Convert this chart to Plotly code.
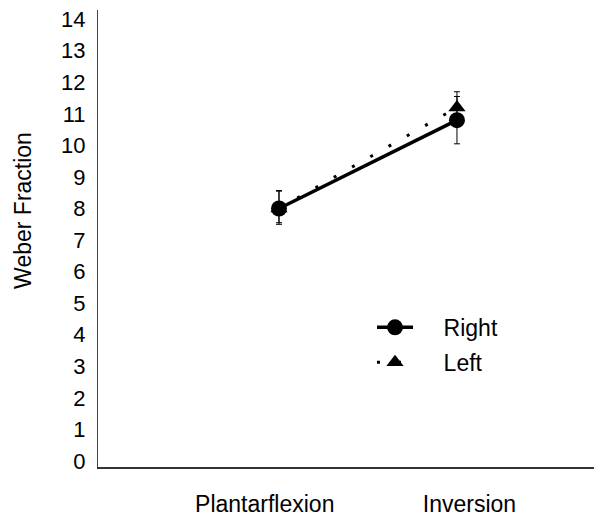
import plotly.graph_objects as go

categories = ["Plantarflexion", "Inversion"]
right_vals = [8.0, 10.8]
right_err_plus = [0.57, 0.75]
right_err_minus = [0.5, 0.75]
left_vals = [8.0, 11.2]
left_err_plus = [0.55, 0.5]
left_err_minus = [0.45, 0.5]
y_ticks = list(range(0, 15))

xpos = list(range(len(categories)))
label_pos = [-0.08, 1.07]

NB = "\u00a0" * 4
font = "Liberation Sans, Arial, Helvetica, sans-serif"

fig = go.Figure()
fig.add_trace(go.Scatter(
    x=xpos, y=left_vals, name=NB + "Left", mode="lines+markers",
    legendgroup="l", legendrank=2,
    line=dict(color="black", width=3, dash="3px,18px"),
    marker=dict(symbol="triangle-up", size=15, color="black"),
    error_y=dict(type="data", array=left_err_plus, arrayminus=left_err_minus,
                 color="black", thickness=1, width=3),
))
fig.add_trace(go.Scatter(
    x=xpos, y=right_vals, name=NB + "Right", mode="lines+markers",
    legendgroup="r", legendrank=1,
    line=dict(color="black", width=3.5),
    marker=dict(symbol="circle", size=16, color="black"),
    error_y=dict(type="data", array=right_err_plus, arrayminus=right_err_minus,
                 color="black", thickness=1, width=3),
))

fig.update_layout(
    width=594, height=511,
    margin=dict(l=90, r=0, t=2, b=52, autoexpand=False),
    plot_bgcolor="white", paper_bgcolor="white",
    font=dict(family=font, size=23, color="black"),
    showlegend=True,
    legend=dict(x=0.5437, y=0.3526, xanchor="left", yanchor="top",
                traceorder="grouped", itemwidth=36,
                font=dict(size=23), bgcolor="rgba(0,0,0,0)",
                tracegroupgap=2),
    xaxis=dict(
        range=[-1.017, 1.815], tickmode="array", tickvals=label_pos,
        ticktext=categories,
        showgrid=False, zeroline=False, showline=True, linecolor="#333",
        linewidth=1.5, ticks="", ticklabelstandoff=16, automargin=False,
        tickfont=dict(size=23), ticklabeloverflow="allow",
    ),
    yaxis=dict(
        range=[-0.19, 14.29], tickmode="array", tickvals=y_ticks,
        showgrid=False, zeroline=False, showline=True, linecolor="#444",
        linewidth=1, ticks="", ticklabelstandoff=7, automargin=False,
        tickfont=dict(size=22), ticklabeloverflow="allow",
    ),
    annotations=[dict(
        text="Weber Fraction", textangle=-90, xref="paper", yref="paper",
        x=-0.149, y=0.5624, xanchor="center", yanchor="middle",
        showarrow=False, font=dict(size=23),
    )],
)

fig.write_html("out.html")
